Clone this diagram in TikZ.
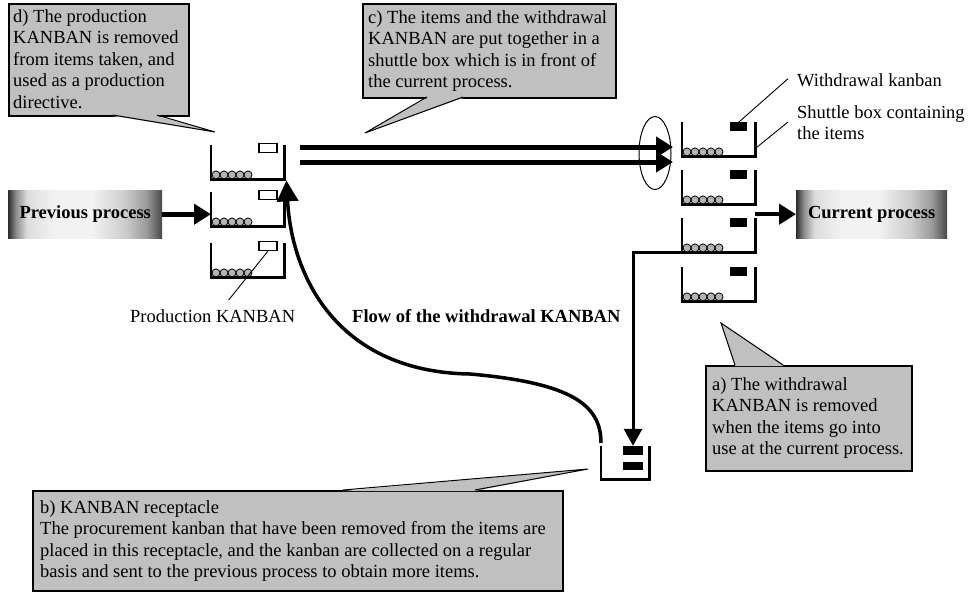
\documentclass[tikz,border=0pt]{standalone}
\usepackage{fontspec}
\setmainfont{Liberation Serif}
\usetikzlibrary{arrows.meta,shapes.geometric,calc}

\definecolor{callgray}{HTML}{C0C0C0}
\definecolor{ballgray}{HTML}{B4B4B4}
\definecolor{shA}{gray}{0.18}
\definecolor{shB}{gray}{0.55}
\definecolor{shC}{gray}{0.86}
\definecolor{shD}{gray}{0.95}
\definecolor{shE}{gray}{0.80}
\definecolor{shF}{gray}{0.60}
\definecolor{shG}{gray}{0.28}

% dark edges, light centre for the process boxes
\pgfdeclarehorizontalshading{procshade}{100bp}{color(0bp)=(shA); color(25bp)=(shA);
  color(27.5bp)=(shB); color(31bp)=(shC); color(40bp)=(shD); color(52bp)=(shD);
  color(63bp)=(shE); color(70bp)=(shF); color(75bp)=(shG); color(100bp)=(shG)}

\tikzset{
  binwall/.style={line width=2.2pt},
  binbox/.style={rectangle, minimum width=73pt, minimum height=34pt, inner sep=0pt},
  kanW/.style={draw, fill=white, line width=1.2pt, minimum width=18pt, minimum height=9pt, inner sep=0pt},
  kanB/.style={fill=black, minimum width=17pt, minimum height=9pt, inner sep=0pt},
  ball/.style={circle, draw, fill=ballgray, line width=0.8pt, minimum size=8pt, inner sep=0pt},
  callbox/.style={rectangle, fill=callgray, draw, line width=1.5pt, inner sep=0pt, anchor=north west},
  calltext/.style={align=left, inner sep=0pt, anchor=north west},
  tailline/.style={line width=1pt},
  proc/.style={shading=procshade, minimum width=154pt, minimum height=48pt, inner sep=0pt,
    font=\fontsize{18.5}{21.5}\selectfont\bfseries},
  bigarrow/.style={line width=5pt, -{Triangle[length=17pt,width=20pt]}},
  leader/.style={line width=0.9pt},
  label/.style={inner sep=0pt, anchor=base west},
}

% a shuttle box: name, left x, top y, kanban style, kanban vertical offset
\newcommand\kbin[5]{%
  \node[binbox, anchor=north west] (#1) at (#2,#3) {};
  \draw[binwall] (#1.north west) -- (#1.south west) -- (#1.south east) -- (#1.north east);
  \foreach \i in {0,...,4} \node[ball] at ($(#1.south west)+(5+8*\i,-4.5)$) {};
  \node[#4, anchor=north] (k#1) at ($(#1.north east)+(-16.5,#5)$) {};
}

\newcommand\fl{\rule{0pt}{13pt}}

\begin{document}
\begin{tikzpicture}[x=1pt, y=-1pt, font=\fontsize{18.5}{21.5}\selectfont]
\useasboundingbox (0,0) rectangle (974,592);

% shuttle boxes at the previous process
\kbin{L1}{211}{145}{kanW}{-2}
\kbin{L2}{211}{192}{kanW}{-2}
\kbin{L3}{211}{243}{kanW}{-2}

% shuttle boxes in front of the current process
\kbin{R1}{682}{122}{kanB}{0}
\kbin{R2}{682}{170}{kanB}{0}
\kbin{R3}{682}{218}{kanB}{0}
\kbin{R4}{682}{267}{kanB}{0}

% kanban receptacle
\node[binbox, minimum width=48pt, minimum height=33pt, anchor=north west] (rec) at (601,446) {};
\draw[binwall] (rec.north west) -- (rec.south west) -- (rec.south east) -- (rec.north east);
\node[fill=black, minimum width=20pt, minimum height=9pt, inner sep=0pt] (rk1) at (633,450.5) {};
\node[fill=black, minimum width=20pt, minimum height=8.5pt, inner sep=0pt] (rk2) at (633,466) {};

% processes
\node[proc, anchor=north west] (prev) at (8,190) {Previous process};
\node[proc, anchor=north west, minimum width=151pt] (cur) at (796,190) {Current process};

\draw[bigarrow] (prev.east) -- (prev.east -| L2.west);
\draw[line width=4.5pt, -{Triangle[length=17pt,width=20pt]}] (cur.west -| R3.east) -- (cur.west);

% items and withdrawal kanban travelling to the current process
\coordinate (fromA) at (300,147);
\coordinate (toA) at (673,147);
\coordinate (fromB) at (300,162);
\coordinate (toB) at (673,162);
\draw[bigarrow] (fromA) -- (toA);
\draw[bigarrow] (fromB) -- (toB);
\node[ellipse, draw, line width=1pt, minimum width=32pt, minimum height=73pt, inner sep=0pt] (oval) at (655,153) {};

% withdrawal kanban taken off at the current process
\draw[line width=3pt, -{Triangle[length=17pt,width=18pt]}] (R3.south west) -| (rk1.north);

% flow of the withdrawal kanban back to the previous process
\draw[line width=3.5pt, -{Triangle[length=21pt,width=21pt]}]
  ($(rec.north west)+(0,-3)$) .. controls (601,405) and (572,383) .. (470,374)
  .. controls (340,372) and (292,280) .. ($(L1.south east)+(2,1)$);
\node[label, font=\fontsize{18.5}{21.5}\selectfont\bfseries] (flow) at (352,322) {Flow of the withdrawal KANBAN};

% part labels
\node[label] (pk) at (130,322) {Production KANBAN};
\draw[leader] (kL3.south) -- ($(pk.north)+(16,-9)$);
\node[label] (wkl) at (797,86) {Withdrawal kanban};
\draw[leader] (kR1.north) -- ($(wkl.west)+(-9,-1)$);
\node[calltext] (sbl) at (797,105) {\fl Shuttle box containing\\the items};
\draw[leader] ($(R1.south east)+(0,-8)$) -- (788,122);

% callout d
\node[callbox, minimum width=180pt, minimum height=112pt] (dbox) at (8,3) {};
\fill[callgray] (113,116) -- (215,132) -- (157,116) -- (157,114) -- (113,114) -- cycle;
\draw[tailline] (113,115) -- (215,132) -- (157,115);
\node[calltext] (dtext) at (13,9) {\fl d) The production\\KANBAN is removed\\from items taken, and\\used as a production\\directive.};

% callout c
\node[callbox, minimum width=253pt, minimum height=94pt] (cbox) at (362,3) {};
\fill[callgray] (427,98) -- (365,133) -- (463,98) -- (463,96) -- (427,96) -- cycle;
\draw[tailline] (427,97) -- (365,133) -- (463,97);
\node[calltext] (ctext) at (368,10) {\fl c) The items and the withdrawal\\KANBAN are put together in a\\shuttle box which is in front of\\the current process.};

% callout a
\node[callbox, minimum width=206pt, minimum height=105pt] (abox) at (705,365) {};
\fill[callgray] (735,364) -- (721,323) -- (783,364) -- (783,366) -- (735,366) -- cycle;
\draw[tailline] (735,365) -- (721,323) -- (783,365);
\node[calltext] (atext) at (712,377) {\fl a) The withdrawal\\KANBAN is removed\\when the items go into\\use at the current process.};

% callout b
\node[callbox, minimum width=530pt, minimum height=100pt] (bbox) at (32,490) {};
\fill[callgray] (343,491) -- (588,469) -- (475,491) -- cycle;
\draw[tailline] (343,490) -- (588,469) -- (475,490);
\node[calltext] (btext) at (40,500) {\fl b) KANBAN receptacle\\The procurement kanban that have been removed from the items are\\placed in this receptacle, and the kanban are collected on a regular\\basis and sent to the previous process to obtain more items.};

\end{tikzpicture}
\end{document}
